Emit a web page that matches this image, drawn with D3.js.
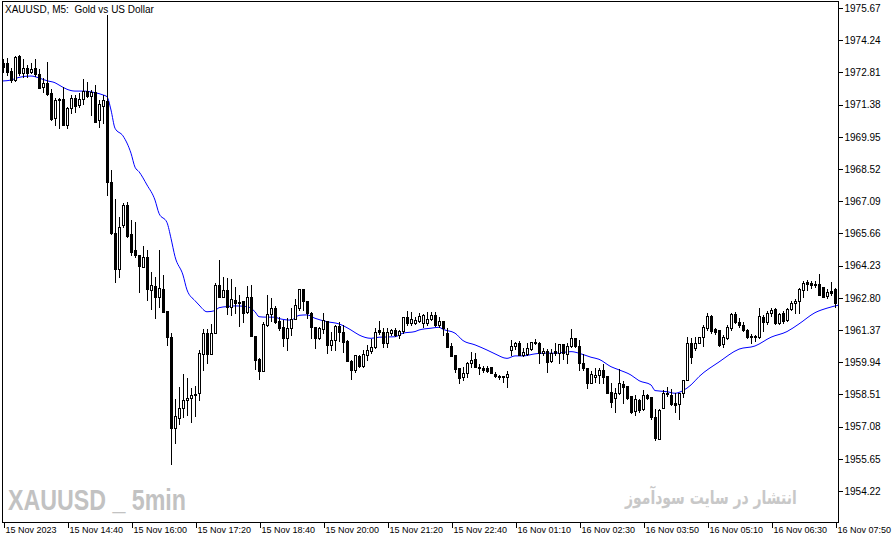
<!DOCTYPE html>
<html>
<head>
<meta charset="utf-8">
<script src="https://cdn.jsdelivr.net/npm/d3@7"></script>
<style>
  html, body { margin: 0; padding: 0; background: #ffffff; }
  svg { display: block; }
  text { font-family: "Liberation Sans", Arial, sans-serif; }
</style>
</head>
<body>
<svg id="chart" width="892" height="543"></svg>
<script>
// ---------- DATA (XAUUSD M5, bar index 0..209) ----------
const open = [
1973.24,1973.21,1972.89,1972.47,1973.54,1972.77,1972.99,1972.84,1972.99,1972.74,
1972.15,1972.35,1971.91,1970.77,1971.61,1971.61,1970.47,1971.21,1971.66,1971.36,
1971.61,1972.00,1971.76,1971.95,1970.70,1971.32,1971.56,1967.96,1965.69,1964.07,
1966.03,1966.92,1965.63,1964.92,1964.70,1964.18,1964.60,1963.15,1963.32,1962.82,
1963.18,1962.23,1961.08,1957.00,1957.45,1957.89,1958.26,1958.34,1958.47,1958.59,
1960.31,1961.25,1960.31,1961.22,1963.37,1962.85,1963.15,1962.41,1962.70,1962.56,
1962.67,1962.19,1962.85,1961.11,1960.07,1959.57,1961.59,1962.08,1962.33,1961.79,
1961.49,1961.00,1961.45,1961.85,1962.33,1963.18,1962.67,1962.14,1961.52,1961.00,
1961.40,1961.79,1960.71,1960.93,1961.55,1961.30,1960.90,1960.01,1959.60,1960.22,
1959.77,1960.26,1960.45,1960.60,1961.37,1961.30,1960.81,1961.22,1961.37,1961.15,
1961.34,1961.93,1961.67,1961.67,1961.79,1961.67,1961.67,1961.85,1962.04,1961.59,
1961.79,1961.25,1960.66,1960.26,1959.67,1959.30,1959.48,1959.89,1960.07,1959.74,
1959.70,1959.67,1959.71,1959.42,1959.33,1959.33,1959.30,1960.48,1960.66,1960.81,
1960.26,1960.31,1960.51,1960.85,1960.81,1960.34,1960.45,1960.01,1960.45,1960.37,
1960.75,1960.31,1960.66,1961.00,1960.66,1959.92,1959.67,1959.03,1959.30,1959.37,
1959.60,1959.33,1958.63,1958.34,1958.56,1958.97,1958.89,1958.44,1957.79,1958.26,
1957.85,1958.49,1958.38,1957.49,1956.52,1957.89,1958.59,1958.49,1958.15,1958.09,
1958.56,1959.15,1960.81,1960.56,1960.81,1961.05,1961.45,1961.99,1961.40,1961.37,
1960.75,1961.00,1961.45,1962.08,1961.74,1961.59,1961.37,1961.10,1961.10,1961.05,
1961.96,1961.74,1962.11,1962.29,1961.70,1962.11,1961.82,1962.29,1962.56,1962.67,
1963.15,1963.52,1963.44,1963.41,1963.41,1963.27,1962.88,1963.12,1963.18,1962.67
];
const high = [
1973.39,1973.44,1972.99,1973.54,1973.58,1973.39,1973.14,1973.21,1973.39,1972.95,
1972.55,1973.29,1972.06,1971.66,1971.66,1972.18,1971.29,1971.81,1971.81,1971.88,
1972.50,1972.40,1972.03,1972.25,1971.59,1971.81,1975.36,1968.48,1967.17,1966.40,
1967.00,1967.07,1966.26,1966.18,1964.70,1965.10,1964.92,1963.96,1963.71,1964.92,
1963.81,1962.23,1961.22,1958.29,1958.86,1959.42,1959.22,1958.78,1958.88,1960.48,
1961.40,1961.40,1961.64,1963.44,1964.48,1963.74,1963.67,1963.62,1963.27,1962.93,
1962.67,1963.32,1963.37,1961.11,1960.11,1961.74,1962.93,1962.78,1962.44,1961.96,
1961.82,1961.89,1962.33,1962.73,1963.18,1963.18,1962.67,1962.19,1961.52,1961.52,
1962.11,1961.79,1961.30,1961.59,1961.74,1961.59,1960.93,1960.04,1960.26,1960.26,
1960.48,1960.71,1960.96,1961.45,1961.79,1961.45,1961.45,1961.40,1961.45,1961.37,
1961.93,1962.23,1962.19,1961.93,1962.11,1962.08,1962.19,1962.19,1962.19,1961.96,
1961.79,1961.45,1960.78,1960.26,1959.67,1959.74,1959.97,1960.41,1960.37,1959.86,
1959.77,1959.77,1959.74,1959.52,1959.37,1959.33,1959.55,1960.93,1960.85,1960.90,
1960.56,1960.81,1960.85,1960.96,1960.85,1960.56,1960.51,1960.51,1960.78,1960.75,
1960.75,1960.78,1961.40,1961.00,1960.93,1960.31,1959.67,1959.57,1959.67,1959.67,
1959.86,1959.33,1959.03,1958.78,1959.63,1959.12,1958.89,1958.44,1958.49,1958.29,
1958.71,1958.53,1958.38,1957.85,1957.85,1958.71,1958.83,1958.74,1958.59,1958.59,
1959.15,1961.05,1961.00,1961.08,1961.05,1961.59,1962.14,1962.04,1961.45,1961.37,
1961.15,1961.59,1962.14,1962.19,1961.89,1961.74,1961.40,1961.19,1961.15,1962.33,
1962.04,1962.23,1962.33,1962.33,1962.14,1962.23,1962.33,1962.67,1962.73,1963.22,
1963.56,1963.59,1963.56,1963.56,1963.86,1963.30,1963.18,1963.52,1963.22,1963.44
];
const low = [
1972.84,1972.70,1972.40,1972.44,1972.70,1972.62,1972.62,1972.77,1972.65,1972.10,
1971.96,1971.81,1970.70,1970.47,1970.33,1970.47,1970.33,1970.99,1971.07,1971.29,
1971.41,1971.73,1970.92,1970.62,1970.40,1970.55,1967.37,1965.63,1963.52,1963.74,
1965.96,1965.52,1964.70,1964.63,1963.07,1964.15,1962.70,1962.29,1961.89,1962.41,
1962.19,1960.71,1955.42,1956.34,1957.20,1957.52,1957.60,1957.30,1957.55,1958.26,
1959.60,1959.89,1960.31,1961.22,1962.85,1962.85,1962.08,1962.04,1962.14,1961.55,
1961.74,1962.14,1961.11,1959.62,1959.18,1959.57,1961.55,1961.79,1961.70,1961.37,
1960.66,1960.48,1961.15,1961.85,1962.26,1962.26,1961.89,1961.00,1960.56,1960.96,
1961.22,1960.34,1960.48,1960.48,1960.90,1960.41,1960.01,1959.18,1959.52,1959.71,
1959.74,1960.04,1960.34,1960.56,1961.19,1960.60,1960.60,1961.15,1961.11,1961.00,
1961.22,1961.59,1961.59,1961.62,1961.74,1961.52,1961.59,1961.82,1961.55,1961.52,
1961.15,1960.63,1960.22,1959.52,1959.00,1959.15,1959.27,1959.74,1959.74,1959.42,
1959.52,1959.52,1959.48,1959.30,1959.18,1959.08,1958.86,1960.26,1960.51,1960.26,
1960.22,1960.26,1960.48,1960.75,1959.92,1960.26,1959.52,1959.97,1960.26,1959.92,
1960.07,1959.89,1960.63,1960.63,1959.60,1959.60,1958.78,1959.00,1959.08,1959.03,
1959.00,1958.56,1957.97,1957.75,1958.53,1958.14,1958.29,1957.70,1957.60,1957.75,
1957.82,1958.29,1957.41,1956.49,1956.52,1957.89,1958.44,1958.04,1957.75,1957.41,
1958.38,1959.15,1959.89,1960.48,1960.78,1960.66,1961.37,1961.25,1961.19,1960.66,
1960.60,1960.96,1961.37,1961.67,1961.52,1961.34,1961.00,1960.81,1960.90,1961.00,
1961.34,1961.64,1961.99,1961.64,1961.64,1961.70,1961.79,1962.26,1962.11,1962.11,
1962.82,1963.15,1963.22,1963.30,1962.93,1962.82,1962.78,1962.93,1962.41,1962.56
];
const close = [
1973.07,1972.84,1972.47,1973.48,1972.77,1972.99,1972.77,1972.95,1972.72,1972.13,
1972.35,1971.85,1970.73,1971.59,1971.57,1970.47,1971.21,1971.66,1971.32,1971.61,
1972.00,1971.76,1971.95,1970.62,1971.41,1971.59,1967.96,1965.69,1964.07,1965.96,
1966.92,1965.55,1964.85,1964.70,1964.21,1964.60,1963.18,1963.37,1962.85,1963.22,
1962.19,1961.08,1957.00,1957.55,1957.89,1958.26,1958.34,1958.49,1958.53,1960.34,
1961.25,1960.31,1961.22,1963.37,1962.85,1963.15,1962.41,1962.73,1962.56,1962.63,
1962.14,1962.85,1961.11,1960.04,1959.57,1961.64,1962.08,1962.33,1961.74,1961.45,
1961.00,1961.45,1961.85,1962.48,1963.18,1962.67,1962.11,1961.52,1961.00,1961.45,
1961.82,1960.71,1960.93,1961.55,1961.30,1960.85,1960.01,1959.60,1960.26,1959.77,
1960.31,1960.48,1960.63,1961.30,1961.30,1960.78,1961.30,1961.37,1961.15,1961.34,
1961.93,1961.67,1961.85,1961.82,1961.99,1962.04,1961.85,1962.04,1961.59,1961.79,
1961.45,1960.63,1960.22,1959.63,1959.23,1959.48,1959.89,1960.04,1959.74,1959.67,
1959.60,1959.57,1959.48,1959.33,1959.30,1959.30,1959.42,1960.66,1960.78,1960.26,
1960.41,1960.56,1960.85,1960.78,1960.34,1960.45,1959.97,1960.34,1960.34,1960.75,
1960.34,1960.66,1961.00,1960.66,1959.89,1959.67,1959.03,1959.42,1959.37,1959.60,
1959.27,1958.59,1958.19,1958.56,1959.00,1958.83,1958.34,1957.75,1958.29,1957.82,
1958.49,1958.34,1957.49,1956.56,1957.82,1958.59,1958.53,1958.09,1958.04,1958.56,
1959.15,1960.81,1960.16,1960.81,1961.05,1961.52,1961.99,1961.34,1961.30,1960.71,
1961.05,1961.49,1962.08,1961.74,1961.59,1961.37,1961.05,1961.05,1961.05,1961.99,
1961.74,1962.11,1962.26,1961.70,1962.08,1961.79,1962.29,1962.59,1962.67,1963.18,
1963.47,1963.41,1963.37,1963.37,1962.93,1962.85,1963.07,1963.00,1962.59,1962.93
];
// Moving average readings (bar index, price)
const maIdx = [0,2,4,7,8,10,11,13,14,16,18,20,23,25,26,27,28,30,32,33,34,36,38,39,41,42,43,45,46,48,
  49,51,53,54,56,58,61,63,64,66,68,69,72,74,76,78,81,84,87,89,92,94,98,100,103,104,107,109,110,113,
  115,118,121,123,126,128,130,133,135,138,139,142,144,147,149,152,154,157,159,162,163,166,168,170,172,174,
  179,184,188,192,196,199,203,206,209];
const maVal = [1972.43,1972.47,1972.59,1972.65,1972.62,1972.50,1972.44,1972.35,1972.25,1972.06,1971.98,1971.98,
  1971.91,1971.81,1971.73,1971.14,1970.33,1969.99,1969.22,1968.60,1968.40,1967.81,1967.14,1966.55,1966.14,
  1965.44,1964.63,1963.81,1963.15,1962.67,1962.48,1962.18,1962.23,1962.36,1962.41,1962.44,1962.41,1962.18,
  1961.96,1961.94,1961.94,1961.88,1961.81,1962.02,1962.04,1961.89,1961.74,1961.64,1961.37,1961.15,1961.00,
  1961.05,1961.07,1961.23,1961.30,1961.37,1961.45,1961.49,1961.40,1961.23,1960.90,1960.71,1960.48,1960.31,
  1960.11,1960.22,1960.22,1960.31,1960.34,1960.34,1960.35,1960.41,1960.34,1960.16,1960.07,1959.74,1959.60,
  1959.37,1959.12,1958.93,1958.68,1958.63,1958.56,1958.68,1958.93,1959.30,1959.95,1960.52,1960.66,1961.05,
  1961.30,1961.64,1962.14,1962.34,1962.48];
const priceTicks = [1975.67,1974.24,1972.81,1971.38,1969.95,1968.52,1967.09,1965.66,1964.23,1962.80,
  1961.37,1959.94,1958.51,1957.08,1955.65,1954.22];
const timeTickIdx = [0,16,32,48,64,80,96,112,128,144,160,176,192,208];
const timeTickLabels = ["15 Nov 2023","15 Nov 14:40","15 Nov 16:00","15 Nov 17:20","15 Nov 18:40",
  "15 Nov 20:00","15 Nov 21:20","15 Nov 22:40","16 Nov 01:10","16 Nov 02:30","16 Nov 03:50",
  "16 Nov 05:10","16 Nov 06:30","16 Nov 07:50"];
const titleText = "XAUUSD, M5:  Gold vs US Dollar";
const watermarkLeft = "XAUUSD _ 5min";
const watermarkRight = "انتشار در سایت سودآموز";

// ---------- DRAW ----------
const svg = d3.select("#chart");
const W = 892, H = 543;
const plot = {left: 2, top: 1, right: 838, bottom: 522};

svg.append("rect").attr("width", W).attr("height", H).attr("fill", "#ffffff");

const x = d3.scaleLinear().domain([0, 209]).range([3, 839]);
const y = d3.scaleLinear().domain([1954.22, 1975.67]).range([491, 8]);

svg.append("defs").append("clipPath").attr("id", "clip")
  .append("rect").attr("x", plot.left + 1).attr("y", plot.top + 1)
  .attr("width", plot.right - plot.left - 1).attr("height", plot.bottom - plot.top - 1);

// watermarks (horizontally condensed via transform so their boxes stay true)
function fitText(txt, x0, baseline, targetW, family, size, color) {
  const gg = svg.append("g");
  const t = gg.append("text")
    .attr("x", 0).attr("y", 0)
    .style("font-family", family)
    .style("font-weight", "bold").style("font-size", size + "px")
    .attr("fill", color)
    .text(txt);
  const w = t.node().getComputedTextLength() || targetW;
  gg.attr("transform", `translate(${x0},${baseline}) scale(${targetW / w},1)`);
}
fitText(watermarkLeft, 8, 510, 178, "'Liberation Sans', Arial, sans-serif", 29, "#c2c2c2");
fitText(watermarkRight, 625, 504, 172, "'DejaVu Sans', sans-serif", 19, "#c8c8c8");

// title
svg.append("text")
  .attr("x", 5).attr("y", 13)
  .style("font-size", "10px").style("white-space", "pre")
  .attr("fill", "#000")
  .text(titleText);

const bars = d3.range(open.length).map(i => ({i, o: open[i], h: high[i], l: low[i], c: close[i]}));
const g = svg.append("g").attr("clip-path", "url(#clip)");

// MA line
const maPts = maIdx.map((d, k) => [d, maVal[k]]);
g.append("path")
  .datum(maPts)
  .attr("fill", "none")
  .attr("stroke", "#0000ff")
  .attr("stroke-width", 1)
  .attr("d", d3.line().x(d => x(d[0])).y(d => y(d[1])).curve(d3.curveMonotoneX));

// candles
const cg = g.selectAll("g.candle").data(bars).join("g").attr("class", "candle");
cg.append("line")
  .attr("x1", d => Math.round(x(d.i)) + 0.5)
  .attr("x2", d => Math.round(x(d.i)) + 0.5)
  .attr("y1", d => Math.round(y(d.h)))
  .attr("y2", d => Math.round(y(d.l)) + 1)
  .attr("stroke", "#000").attr("stroke-width", 1)
  .attr("shape-rendering", "crispEdges");
cg.each(function(d) {
  const cx = Math.round(x(d.i));
  const t = Math.round(y(Math.max(d.o, d.c)));
  const b = Math.round(y(Math.min(d.o, d.c)));
  const sel = d3.select(this);
  if (b - t < 1) {
    sel.append("line")
      .attr("x1", cx - 1).attr("x2", cx + 2)
      .attr("y1", t + 0.5).attr("y2", t + 0.5)
      .attr("stroke", "#000").attr("stroke-width", 1)
      .attr("shape-rendering", "crispEdges");
  } else {
    sel.append("rect")
      .attr("x", cx - 0.5).attr("y", t + 0.5)
      .attr("width", 2).attr("height", b - t)
      .attr("fill", d.c >= d.o ? "#ffffff" : "#000000")
      .attr("stroke", "#000").attr("stroke-width", 1)
      .attr("shape-rendering", "crispEdges");
  }
});

// frame
svg.append("rect")
  .attr("x", plot.left + 0.5).attr("y", plot.top + 0.5)
  .attr("width", plot.right - plot.left).attr("height", plot.bottom - plot.top)
  .attr("fill", "none").attr("stroke", "#000").attr("stroke-width", 1)
  .attr("shape-rendering", "crispEdges");

// right axis
const ya = svg.append("g").attr("transform", `translate(${plot.right + 0.5},0)`)
  .call(d3.axisRight(y).tickValues(priceTicks).tickSize(4).tickPadding(2).tickFormat(d3.format(".2f")));
ya.select(".domain").remove();
ya.selectAll("line").attr("stroke", "#000").attr("shape-rendering", "crispEdges");
ya.selectAll("text").style("font-family", "'Liberation Sans', Arial, sans-serif")
  .style("font-size", "10px").attr("fill", "#000");

// bottom axis
const xa = svg.append("g").attr("transform", `translate(0,${plot.bottom + 0.5})`)
  .call(d3.axisBottom(x).tickValues(timeTickIdx).tickSize(5)
    .tickFormat((d, k) => timeTickLabels[k]));
xa.select(".domain").remove();
xa.selectAll(".tick line").attr("stroke", "#000").attr("shape-rendering", "crispEdges")
  .attr("transform", "translate(0.5,0)");
xa.selectAll(".tick text")
  .attr("text-anchor", "start").attr("x", 2).attr("y", 4).attr("dy", "0.71em")
  .style("font-family", "'Liberation Sans', Arial, sans-serif")
  .style("font-size", "9px").attr("fill", "#000");
</script>
</body>
</html>
